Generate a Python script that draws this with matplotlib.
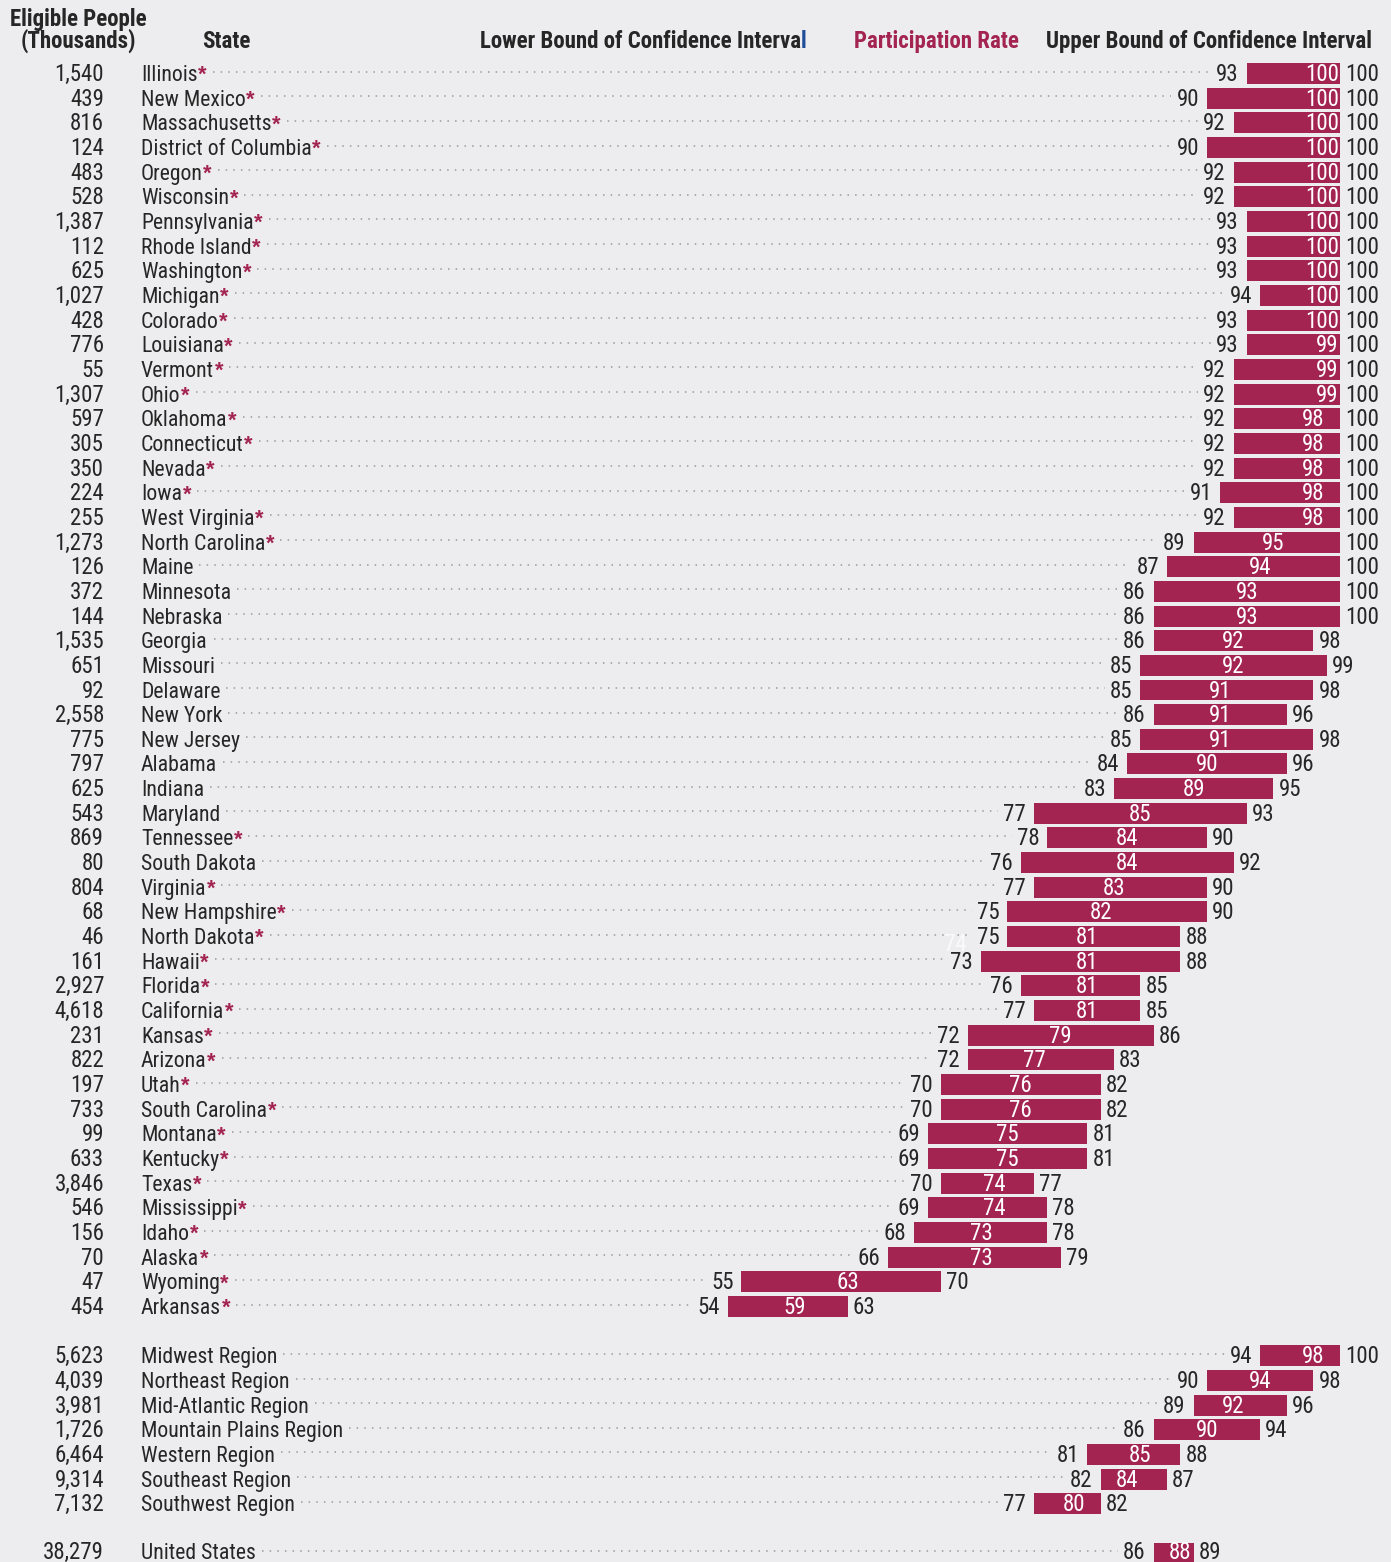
import matplotlib.pyplot as plt

plt.rcParams['font.family'] = ['Roboto Condensed', 'PT Sans Narrow', 'DejaVu Sans']

# === Данные ===
states = ['Illinois', 'New Mexico', 'Massachusetts', 'District of Columbia', 'Oregon',
          'Wisconsin', 'Pennsylvania', 'Rhode Island', 'Washington', 'Michigan',
          'Colorado', 'Louisiana', 'Vermont', 'Ohio', 'Oklahoma', 'Connecticut',
          'Nevada', 'Iowa', 'West Virginia', 'North Carolina', 'Maine', 'Minnesota',
          'Nebraska', 'Georgia', 'Missouri', 'Delaware', 'New York', 'New Jersey',
          'Alabama', 'Indiana', 'Maryland', 'Tennessee', 'South Dakota', 'Virginia',
          'New Hampshire', 'North Dakota', 'Hawaii', 'Florida', 'California', 'Kansas',
          'Arizona', 'Utah', 'South Carolina', 'Montana', 'Kentucky', 'Texas',
          'Mississippi', 'Idaho', 'Alaska', 'Wyoming', 'Arkansas']
state_people = ['1,540', '439', '816', '124', '483', '528', '1,387', '112', '625', '1,027',
                '428', '776', '55', '1,307', '597', '305', '350', '224', '255', '1,273',
                '126', '372', '144', '1,535', '651', '92', '2,558', '775', '797', '625',
                '543', '869', '80', '804', '68', '46', '161', '2,927', '4,618', '231',
                '822', '197', '733', '99', '633', '3,846', '546', '156', '70', '47', '454']
state_low = [93, 90, 92, 90, 92, 92, 93, 93, 93, 94, 93, 93, 92, 92, 92, 92, 92, 91, 92, 89,
             87, 86, 86, 86, 85, 85, 86, 85, 84, 83, 77, 78, 76, 77, 75, 75, 73, 76, 77, 72,
             72, 70, 70, 69, 69, 70, 69, 68, 66, 55, 54]
state_rate = [100, 100, 100, 100, 100, 100, 100, 100, 100, 100, 100, 99, 99, 99, 98, 98, 98,
              98, 98, 95, 94, 93, 93, 92, 92, 91, 91, 91, 90, 89, 85, 84, 84, 83, 82, 81, 81,
              81, 81, 79, 77, 76, 76, 75, 75, 74, 74, 73, 73, 63, 59]
state_high = [100, 100, 100, 100, 100, 100, 100, 100, 100, 100, 100, 100, 100, 100, 100, 100,
              100, 100, 100, 100, 100, 100, 100, 98, 99, 98, 96, 98, 96, 95, 93, 90, 92, 90,
              90, 88, 88, 85, 85, 86, 83, 82, 82, 81, 81, 77, 78, 78, 79, 70, 63]
# звёздочка у названия штата
state_star = [1] * 20 + [0] * 11 + [1, 0] + [1] * 18

regions = ['Midwest Region', 'Northeast Region', 'Mid-Atlantic Region',
           'Mountain Plains Region', 'Western Region', 'Southeast Region', 'Southwest Region']
region_people = ['5,623', '4,039', '3,981', '1,726', '6,464', '9,314', '7,132']
region_low = [94, 90, 89, 86, 81, 82, 77]
region_rate = [98, 94, 92, 90, 85, 84, 80]
region_high = [100, 98, 96, 94, 88, 87, 82]

us_name = 'United States'
us_people = '38,279'
us_low, us_rate, us_high = 86, 88, 89

# === Стиль и разметка ===
BG = '#EDEDEF'
BAR = '#A32451'
INK = '#262626'
DOT = '#9A9A9A'
FS = 16.5         # числа и заголовки
FS_NAME = 15.7    # названия
W, H = 1391, 1562
SCALE = 13.3      # пикселей на пункт
X100 = 1340       # пиксель значения 100
ROW = 24.66
Y0 = 73.5
BASE = -7.5       # смещение базовой линии текста

fig = plt.figure(figsize=(W / 100, H / 100), dpi=100)
fig.patch.set_facecolor(BG)
ax = fig.add_axes([0, 0, 1, 1])
ax.axis('off')
ax.set_xlim(100 - X100 / SCALE, 100 + (W - X100) / SCALE)
ax.set_ylim((H - Y0) / ROW, -Y0 / ROW)


def xpx(p):
    return 100 - (X100 - p) / SCALE


def label(x, y, s, dx=0, base=BASE, **kw):
    kw.setdefault('color', INK)
    kw.setdefault('fontsize', FS)
    return ax.annotate(s, (x, y), xytext=(dx, base), textcoords='offset pixels',
                       va='baseline', **kw)


rows = []
for i in range(len(states)):
    rows.append((i, states[i], state_people[i], state_low[i], state_rate[i],
                 state_high[i], state_star[i]))
for i in range(len(regions)):
    rows.append((52 + i, regions[i], region_people[i], region_low[i], region_rate[i],
                 region_high[i], 0))
rows.append((60, us_name, us_people, us_low, us_rate, us_high, 0))

drawn = []
for y, name, people, lo, rate, hi, star in rows:
    b = BASE + 2 if y == 60 else BASE   # нижняя строка у самого края
    ax.barh(y, hi - lo, left=lo, height=0.85, color=BAR, zorder=2)
    label(xpx(104), y, people, base=b, ha='right')
    t_name = label(xpx(141), y, name, base=b, ha='left', fontsize=FS_NAME)
    t_lo = label(lo, y, str(lo), dx=-8, base=b, ha='right')
    label(hi, y, str(hi), dx=5, base=b, ha='left')
    t_rate = label(rate, y, str(rate), base=b, ha='center', color='white', zorder=3)
    drawn.append((y, hi, star, b, t_name, t_lo, t_rate))

# случайная белая подпись в оригинале
label(71.05, 36 - 0.74, '74', ha='center', color='#FAFAFA')

# заголовки
def head(x, y, s, **kw):
    kw.setdefault('color', INK)
    fig.text(x / W, 1 - y / H, s, fontsize=FS, fontweight='bold', va='baseline', **kw)


head(10, 26, 'Eligible People', ha='left')
head(78, 48, '(Thousands)', ha='center')
head(226, 48, 'State', ha='center')
head(801, 48, 'Lower Bound of Confidence Interva', ha='right')
head(801, 48, 'l', ha='left', color='#1F4E99')
head(936, 48, 'Participation Rate', ha='center', color=BAR)
head(1209, 48, 'Upper Bound of Confidence Interval', ha='center')

# звёздочки, пунктирные выноски и подгонка подписей внутри столбцов
fig.canvas.draw()
r = fig.canvas.get_renderer()
inv = ax.transData.inverted()
for y, hi, star, b, t_name, t_lo, t_rate in drawn:
    end = t_name.get_window_extent(r).x1
    if star:
        t_star = label(inv.transform((end, 0))[0], y, '*', dx=0.5, base=b, ha='left',
                       color=BAR, family='Liberation Sans', fontweight='bold',
                       fontsize=FS_NAME)
        end = t_star.get_window_extent(r).x1
    x0 = inv.transform((end + 6, 0))[0]
    x1 = inv.transform((t_lo.get_window_extent(r).x0 - 5, 0))[0]
    ax.plot([x0, x1], [y - 0.08, y - 0.08], ls=(0, (1, 4)), lw=1.1, color=DOT, zorder=1)
    bar_end = ax.transData.transform((hi, y))[0]
    if t_rate.get_window_extent(r).x1 > bar_end - 1:
        t_rate.xy = (hi, y)
        t_rate.set_position((-1, b))
        t_rate.set_ha('right')

fig.savefig('out.png', dpi=100, facecolor=BG)
